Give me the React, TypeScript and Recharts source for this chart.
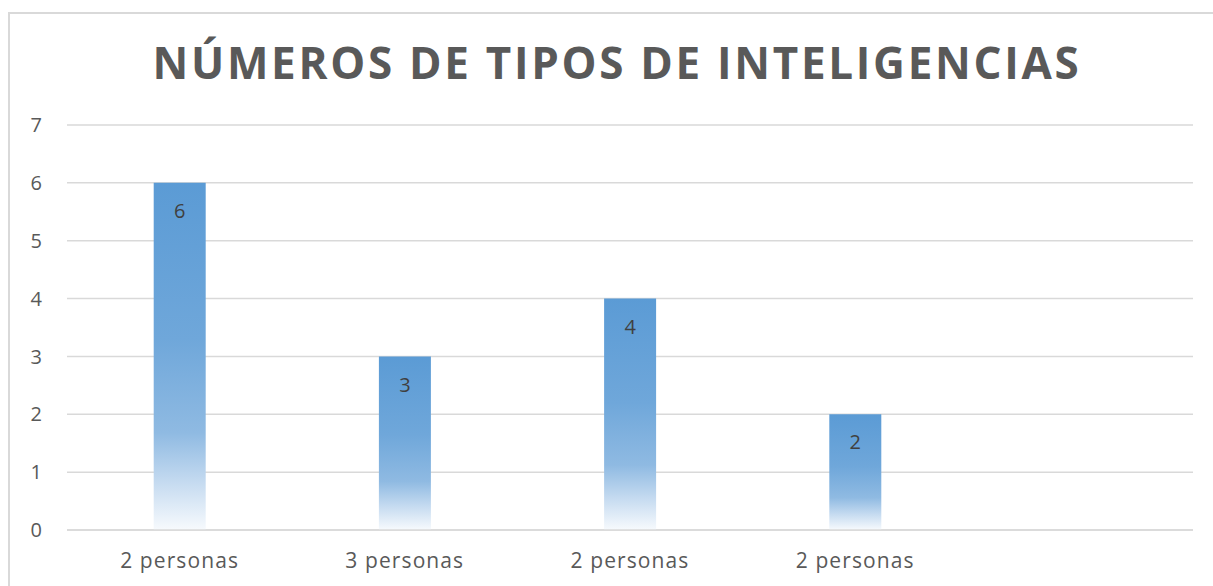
import { BarChart, Bar, XAxis, YAxis, CartesianGrid, LabelList } from 'recharts'

const categories = ['2 personas', '3 personas', '2 personas', '2 personas', '']
const values = [6, 3, 4, 2, null]
const yTicks = [0, 1, 2, 3, 4, 5, 6, 7]

const data = categories.map((name, i) => ({ name, value: values[i] }))

const FONT = '"Open Sans", "Noto Sans", sans-serif'

export default function App() {
  return (
    <div style={{ position: 'absolute', left: 0, top: 0, width: 1213, height: 586, background: '#fff', overflow: 'hidden' }}>
      {/* frame */}
      <div style={{ position: 'absolute', left: 8, top: 12, width: 1220, height: 600, borderTop: '2px solid #d9d9d9', borderLeft: '2px solid #d9d9d9' }} />
      <div
        style={{
          position: 'absolute', left: 0, top: 30, width: 1234, textAlign: 'center',
          fontFamily: FONT, fontWeight: 700, fontSize: 44, lineHeight: '64px', color: '#595959', letterSpacing: 2.7,
        }}
      >
        NÚMEROS DE TIPOS DE INTELIGENCIAS
      </div>
      <BarChart
        width={1213}
        height={586}
        data={data}
        margin={{ top: 125, right: 20, bottom: 26, left: 0 }}
        barCategoryGap="38.5%"
        style={{ position: 'absolute', left: 0, top: 0, fontFamily: FONT }}
      >
        <defs>
          <linearGradient id="barFade" x1="0" y1="0" x2="0" y2="1">
            <stop offset="0%" stopColor="#5b9bd5" />
            <stop offset="45%" stopColor="#6fa7da" />
            <stop offset="72%" stopColor="#8fbae2" />
            <stop offset="86%" stopColor="#c4daf0" />
            <stop offset="100%" stopColor="#f7fafd" />
          </linearGradient>
        </defs>
        <CartesianGrid horizontal vertical={false} stroke="#d9d9d9" strokeWidth={1.5} />
        <XAxis
          dataKey="name"
          height={30}
          axisLine={{ stroke: '#d9d9d9', strokeWidth: 1.5 }}
          tickLine={false}
          tickMargin={17}
          tick={{ fontSize: 21, fill: '#595959', letterSpacing: 1.1 }}
          interval={0}
        />
        <YAxis
          domain={[0, 7]}
          ticks={yTicks}
          width={67}
          axisLine={false}
          tickLine={false}
          tickMargin={19}
          tick={{ fontSize: 20, fill: '#595959' }}
        />
        <Bar dataKey="value" fill="url(#barFade)" isAnimationActive={false}>
          <LabelList dataKey="value" position="insideTop" offset={21} fill="#404040" fontSize={20} />
        </Bar>
      </BarChart>
    </div>
  )
}
